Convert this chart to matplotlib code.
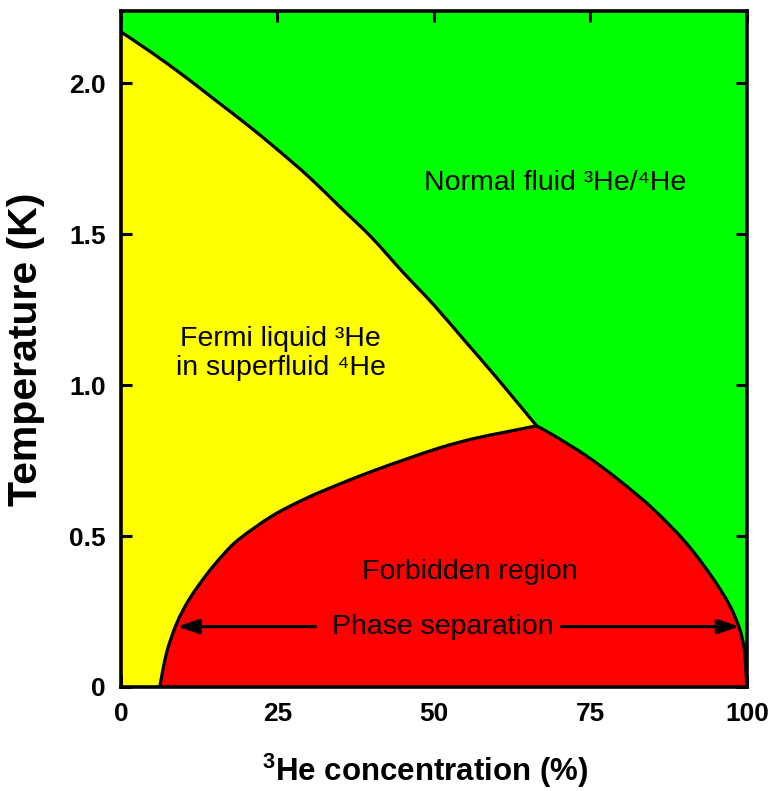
import matplotlib
matplotlib.use("Agg")
import matplotlib.pyplot as plt
from matplotlib.path import Path
from matplotlib.patches import PathPatch
import numpy as np

plt.rcParams['font.family'] = ['Liberation Sans', 'Noto Sans', 'DejaVu Sans']
plt.rcParams['mathtext.fontset'] = 'custom'
plt.rcParams['mathtext.rm'] = 'Liberation Sans'
plt.rcParams['mathtext.bf'] = 'Liberation Sans:bold'

# Lambda line: superfluid transition temperature vs 3He concentration
lambda_x = [0, 5, 10, 15, 20, 25, 30, 35, 40, 45, 50, 55, 60, 66.4]
lambda_T = [2.17, 2.10, 2.025, 1.945, 1.865, 1.78, 1.69, 1.59, 1.49, 1.375, 1.265, 1.145, 1.025, 0.865]

# Phase-separation boundary, dilute branch (up to the tricritical point)
dilute_x = [6.2, 7.3, 8.9, 10.9, 13.6, 16.2, 18.9, 24.2, 29.6, 34.9, 40.2, 45.6, 50.9, 56.2, 61.6, 66.4]
dilute_T = [0.0, 0.113, 0.21, 0.29, 0.37, 0.435, 0.49, 0.567, 0.625, 0.672, 0.715, 0.755, 0.792, 0.822, 0.845, 0.865]

# Phase-separation boundary, concentrated branch (from the tricritical point)
conc_x = [66.4, 69.0, 74.4, 79.7, 85.0, 90.3, 94.5, 97.2, 98.8, 99.6, 100.0]
conc_T = [0.865, 0.835, 0.765, 0.683, 0.59, 0.477, 0.362, 0.272, 0.195, 0.12, 0.0]

x_ticks = [0, 25, 50, 75, 100]
x_ticklabels = ['0', '25', '50', '75', '100']
y_ticks = [0, 0.5, 1.0, 1.5, 2.0]
y_ticklabels = ['0', '0.5', '1.0', '1.5', '2.0']

GREEN = '#00ff00'
YELLOW = '#ffff00'
RED = '#ff0000'


def smooth_segment(xs, ys):
    """Bezier segments (Catmull-Rom) through the points, without the initial MOVETO."""
    pts = np.column_stack([xs, ys]).astype(float)
    n = len(pts)
    verts, codes = [], []
    for i in range(n - 1):
        p0 = pts[i - 1] if i > 0 else pts[i]
        p1, p2 = pts[i], pts[i + 1]
        p3 = pts[i + 2] if i + 2 < n else pts[i + 1]
        verts += [p1 + (p2 - p0) / 6.0, p2 - (p3 - p1) / 6.0, p2]
        codes += [Path.CURVE4] * 3
    return verts, codes


def open_curve(xs, ys):
    v, c = smooth_segment(xs, ys)
    return Path([(xs[0], ys[0])] + v, [Path.MOVETO] + c)


fig = plt.figure(figsize=(7.7, 7.91), dpi=100)
ax = fig.add_axes([0.157, 0.1315, 0.813, 0.855])
ax.set_xlim(0, 100)
ax.set_ylim(0, 2.24)
ax.set_facecolor(GREEN)

# Superfluid (yellow) region: left edge, lambda line, back down the dilute branch
v_lam, c_lam = smooth_segment(lambda_x, lambda_T)
v_dil_rev, c_dil_rev = smooth_segment(dilute_x[::-1], dilute_T[::-1])
yel_verts = [(0, 0), (lambda_x[0], lambda_T[0])] + v_lam + v_dil_rev + [(0, 0), (0, 0)]
yel_codes = [Path.MOVETO, Path.LINETO] + c_lam + c_dil_rev + [Path.LINETO, Path.CLOSEPOLY]
ax.add_patch(PathPatch(Path(yel_verts, yel_codes), facecolor=YELLOW, lw=0, zorder=1))

# Forbidden (red) region under the phase-separation dome
v_dil, c_dil = smooth_segment(dilute_x, dilute_T)
v_con, c_con = smooth_segment(conc_x, conc_T)
red_verts = [(dilute_x[0], dilute_T[0])] + v_dil + v_con + [(dilute_x[0], 0), (dilute_x[0], 0)]
red_codes = [Path.MOVETO] + c_dil + c_con + [Path.LINETO, Path.CLOSEPOLY]
ax.add_patch(PathPatch(Path(red_verts, red_codes), facecolor=RED, lw=0, zorder=2))

# Boundary lines
for xs, ys in [(lambda_x, lambda_T), (dilute_x, dilute_T), (conc_x, conc_T)]:
    ax.add_patch(PathPatch(open_curve(xs, ys), facecolor='none', edgecolor='black',
                           lw=2.3, capstyle='round', zorder=3))

# Labels inside regions
fs = 20.5
ax.text(69.3, 1.67, 'Normal fluid ³He/⁴He', fontsize=fs,
        ha='center', va='center', zorder=5)
ax.text(25.5, 1.105, 'Fermi liquid ³He\nin superfluid ⁴He',
        fontsize=fs, ha='center', va='center', linespacing=1.12, zorder=5)
ax.text(55.7, 0.38, 'Forbidden region', fontsize=fs, ha='center', va='center', zorder=5)
ax.text(51.4, 0.2, 'Phase separation', fontsize=fs, ha='center', va='center', zorder=5)

arrow = dict(arrowstyle='-|>,head_length=0.65,head_width=0.22', color='black', lw=2.3,
             shrinkA=0, shrinkB=0, mutation_scale=20)
ax.annotate('', xy=(9.0, 0.2), xytext=(31.1, 0.2), arrowprops=arrow, zorder=5)
ax.annotate('', xy=(98.8, 0.2), xytext=(70.4, 0.2), arrowprops=arrow, zorder=5)

ax.set_xticks(x_ticks)
ax.set_xticklabels(x_ticklabels)
ax.set_yticks(y_ticks)
ax.set_yticklabels(y_ticklabels)
ax.tick_params(direction='in', length=8, width=2.2, top=True, right=True,
               labelsize=19, pad=11)
for lab in ax.get_xticklabels() + ax.get_yticklabels():
    lab.set_fontweight('bold')
for sp in ax.spines.values():
    sp.set_linewidth(2.6)
    sp.set_zorder(6)

ax.set_xlabel(r'$\mathbf{^{3}}$He concentration (%)', fontsize=22.5, fontweight='bold')
ax.xaxis.set_label_coords(0.486, -0.096)
ax.set_ylabel('Temperature (K)', fontsize=29.5, fontweight='bold')
ax.yaxis.set_label_coords(-0.121, 0.5)

fig.savefig('out.png', dpi=100)
